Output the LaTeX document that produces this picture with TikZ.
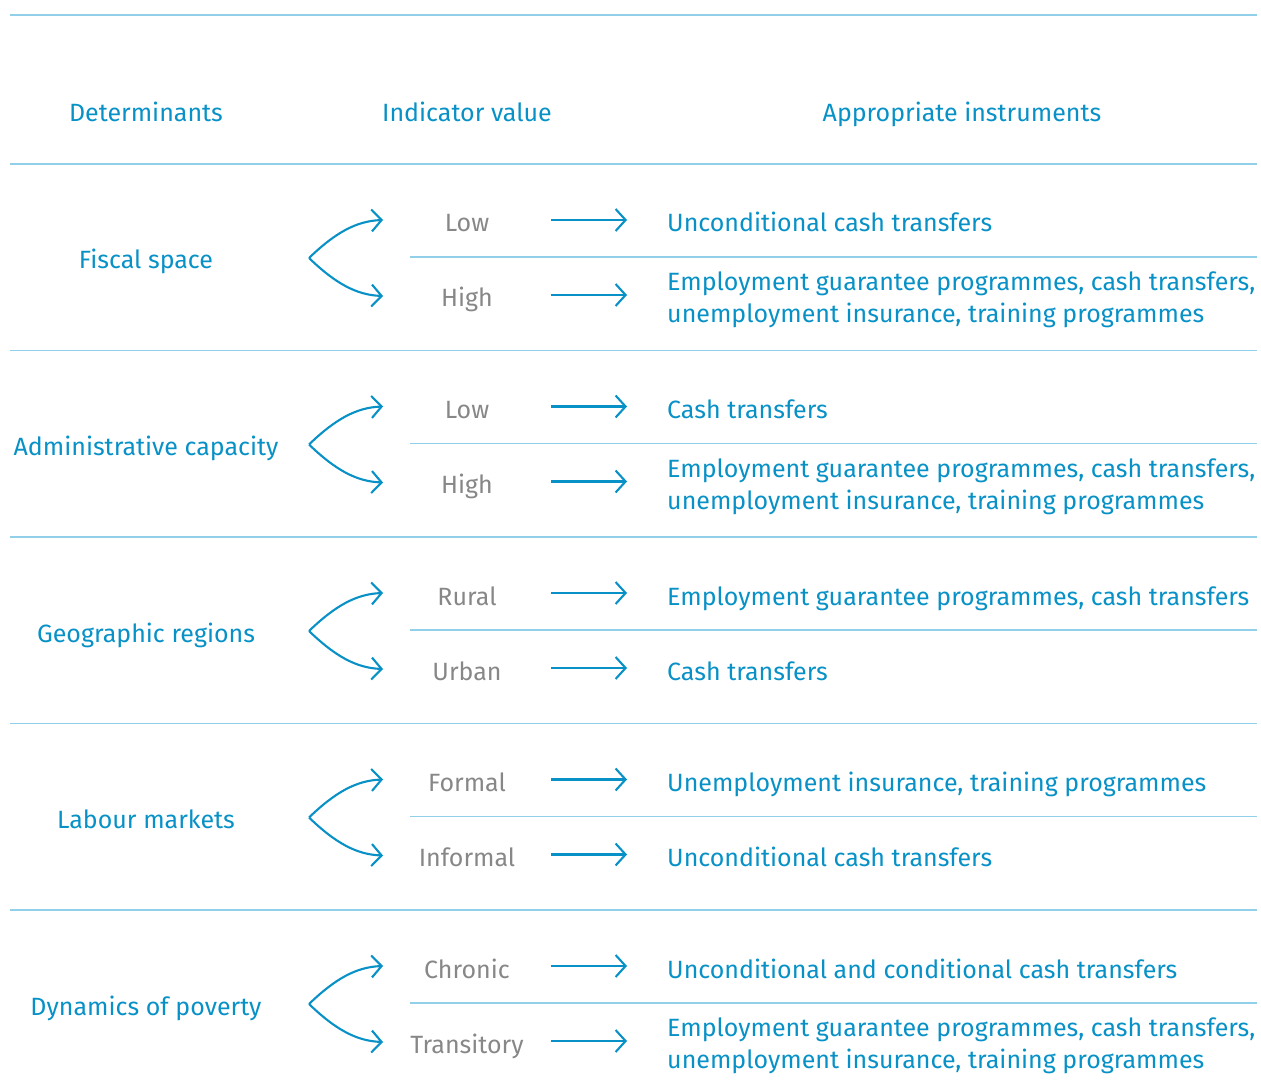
\documentclass[tikz,border=0pt]{standalone}
\usepackage{fontspec}
\setmainfont{Fira Sans}
\usetikzlibrary{arrows.meta}
\definecolor{cblue}{RGB}{8,145,198}
\definecolor{cgrey}{RGB}{135,135,135}
\definecolor{rulecol}{RGB}{145,208,232}

% one determinant with its two indicator values and instruments
\newcommand{\determinantblock}[7]{%
  \pgfmathsetmacro{\blocktop}{164+186.5*#1}
  \pgfmathsetmacro{\rowa}{\blocktop+58}
  \pgfmathsetmacro{\rowb}{\blocktop+133}
  \pgfmathsetmacro{\midline}{\blocktop+93}
  \pgfmathsetmacro{\detrow}{\blocktop+95}
  \pgfmathsetmacro{\bottom}{\blocktop+186.5}
  \node[bluetext] (det#1) at (146,\detrow) {#2};
  \node[greytext] (va#1) at (467,\rowa) {#3};
  \node[greytext] (vb#1) at (467,\rowb) {#4};
  \node[bluetext,anchor=west] (ia#1) at (667,\rowa) {#5};
  \node[#7,anchor=west,align=left] (ib#1) at (667,\rowb) {#6};
  \coordinate (fork#1) at (309,\detrow-1);
  \coordinate (ea#1) at (383,\rowa-2);
  \coordinate (eb#1) at (383,\rowb-1);
  \coordinate (sa#1) at (551,\rowa-2);
  \coordinate (ta#1) at (627,\rowa-2);
  \coordinate (sb#1) at (551,\rowb-2);
  \coordinate (tb#1) at (627,\rowb-2);
  \coordinate (ml#1) at (410,\midline);
  \coordinate (mr#1) at (1257,\midline);
  \coordinate (bl#1) at (10,\bottom);
  \coordinate (br#1) at (1257,\bottom);
  \draw[arrowline] (fork#1) .. controls (335,\detrow-26) and (356,\rowa-1) .. (ea#1);
  \draw[arrowline] (fork#1) .. controls (335,\detrow+24) and (356,\rowb-2) .. (eb#1);
  \draw[arrowline] (sa#1) -- (ta#1);
  \draw[arrowline] (sb#1) -- (tb#1);
  \draw[rule] (ml#1) -- (mr#1);
  \draw[rule] (bl#1) -- (br#1);
}

\begin{document}
\begin{tikzpicture}[x=1pt,y=-1pt,
  rule/.style={draw=rulecol,line width=1.1pt},
  arrowline/.style={draw=cblue,line width=2.1pt,
    -{Straight Barb[length=10pt,width=22pt,line width=2.1pt]}},
  basefont/.style={inner sep=0pt,font=\fontsize{25}{32}\selectfont},
  bluetext/.style={basefont,text=cblue,text height=18pt,text depth=6pt,yshift=-4pt},
  bluelines/.style={basefont,text=cblue,yshift=-3pt},
  greytext/.style={basefont,text=cgrey,text height=18pt,text depth=6pt,yshift=-4pt},
]
\useasboundingbox (0,0) rectangle (1261,1091);

% frame rules
\coordinate (tl) at (10,15);
\coordinate (tr) at (1257,15);
\coordinate (hl) at (10,164);
\coordinate (hr) at (1257,164);
\draw[rule] (tl) -- (tr);
\draw[rule] (hl) -- (hr);

% column headings
\node[bluetext] (hdet) at (146,112) {Determinants};
\node[bluetext] (hind) at (467,112) {Indicator value};
\node[bluetext] (hins) at (962,112) {Appropriate instruments};

\determinantblock{0}{Fiscal space}{Low}{High}
  {Unconditional cash transfers}
  {Employment guarantee programmes, cash transfers,\\unemployment insurance, training programmes}{bluelines}
\determinantblock{1}{Administrative capacity}{Low}{High}
  {Cash transfers}
  {Employment guarantee programmes, cash transfers,\\unemployment insurance, training programmes}{bluelines}
\determinantblock{2}{Geographic regions}{Rural}{Urban}
  {Employment guarantee programmes, cash transfers}
  {Cash transfers}{bluetext}
\determinantblock{3}{Labour markets}{Formal}{Informal}
  {Unemployment insurance, training programmes}
  {Unconditional cash transfers}{bluetext}
\determinantblock{4}{Dynamics of poverty}{Chronic}{Transitory}
  {Unconditional and conditional cash transfers}
  {Employment guarantee programmes, cash transfers,\\unemployment insurance, training programmes}{bluelines}
\end{tikzpicture}
\end{document}
